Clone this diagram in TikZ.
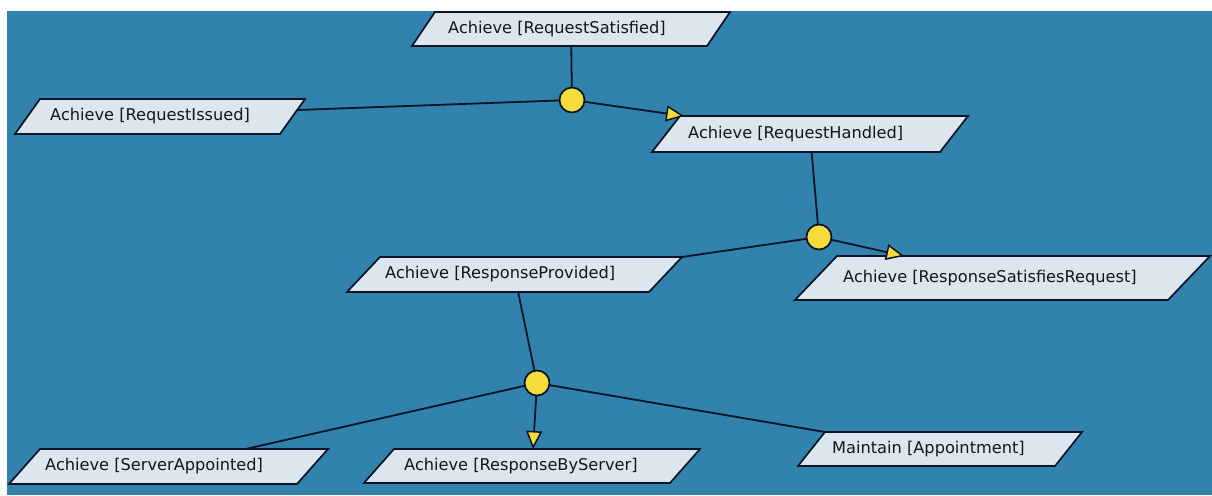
\documentclass[tikz,border=0pt]{standalone}
\usepackage{fontspec}
\setmainfont{DejaVu Sans}
\usetikzlibrary{arrows.meta,calc,backgrounds}
\definecolor{bgblue}{RGB}{49,130,172}
\definecolor{goalfill}{RGB}{220,230,238}
\definecolor{ink}{RGB}{10,20,38}
\definecolor{andyel}{RGB}{246,220,58}
\definecolor{txt}{RGB}{20,22,30}
\tikzset{
  goal/.style n args={2}{rectangle, draw=none, inner sep=0pt, outer sep=0pt,
    minimum width=#1, minimum height=#2},
  gshape/.style={draw=ink, fill=goalfill, line width=1.7pt, line join=miter},
  lbl/.style={anchor=west, inner sep=0pt, text=txt, font=\fontsize{16.2}{17}\selectfont},
  andnode/.style={circle, draw=ink, fill=andyel, line width=1.7pt, minimum size=25pt, inner sep=0pt, outer sep=0pt},
  link/.style={draw=ink, line width=1.8pt},
  refine/.style={link, -{Triangle[length=18pt,width=16pt,fill=andyel,line width=1.5pt]}}
}
\newcommand\pgramshape[2]{%
  \path[gshape] ([xshift=#2*0.5pt]#1.north west) -- ([xshift=#2*0.5pt]#1.north east)
    -- ([xshift=-#2*0.5pt]#1.south east) -- ([xshift=-#2*0.5pt]#1.south west) -- cycle;}
\begin{document}
\begin{tikzpicture}[x=1pt,y=-1pt]
\useasboundingbox (0,0) rectangle (1212,495);

% goals (text boxes of the parallelograms)
\node[goal={295pt}{34pt}] (rs) at (571,29) {};
\node[goal={265pt}{35pt}] (ri) at (160,116.5) {};
\node[goal={288pt}{36pt}] (rh) at (810,134) {};
\node[goal={302pt}{35pt}] (rp) at (514.5,274.5) {};
\node[goal={373pt}{44pt}] (rsr) at (1002.5,278) {};
\node[goal={288pt}{35pt}] (sa) at (168.5,466.5) {};
\node[goal={306pt}{34pt}] (rbs) at (532,466) {};
\node[goal={257pt}{34pt}] (ma) at (940,449) {};

\begin{scope}[on background layer]
\fill[white] (0,0) rectangle (1212,495);
\fill[bgblue] (7,11) rectangle (1212,495);
\pgramshape{rs}{23}
\pgramshape{ri}{25}
\pgramshape{rh}{28}
\pgramshape{rp}{33}
\pgramshape{rsr}{42}
\pgramshape{sa}{31}
\pgramshape{rbs}{30}
\pgramshape{ma}{27}
\end{scope}

% labels
\node[lbl] (rs-t) at ([xshift=24.5pt]rs.west) {Achieve [RequestSatisfied]};
\node[lbl] (ri-t) at ([xshift=22.5pt]ri.west) {Achieve [RequestIssued]};
\node[lbl] (rh-t) at ([xshift=22pt]rh.west) {Achieve [RequestHandled]};
\node[lbl] (rp-t) at ([xshift=21.5pt]rp.west) {Achieve [ResponseProvided]};
\node[lbl] (rsr-t) at ([xshift=27pt]rsr.west) {Achieve [ResponseSatisfiesRequest]};
\node[lbl] (sa-t) at ([xshift=20.5pt]sa.west) {Achieve [ServerAppointed]};
\node[lbl] (rbs-t) at ([xshift=25pt]rbs.west) {Achieve [ResponseByServer]};
\node[lbl] (ma-t) at ([xshift=20.5pt]ma.west) {Maintain [Appointment]};

% and-refinement circles
\node[andnode] (c1) at (572,100) {};
\node[andnode] (c2) at (819,237) {};
\node[andnode] (c3) at (537,383) {};

% connectors
\coordinate (ri-end) at ([xshift=5pt,yshift=6.5pt]ri.east);
\draw[link] (rs) -- (c1);
\draw[link] (ri-end) -- (c1);
\draw[refine] (c1) -- (rh);
\draw[link] (rh) -- (c2);
\draw[link] ([xshift=16.5pt]rp.north east) -- (c2);
\draw[refine] (c2) -- (rsr);
\draw[link] (rp) -- (c3);
\draw[link] (sa) -- (c3);
\draw[refine] (c3) -- (rbs);
\draw[link] ([xshift=13.5pt]ma.north west) -- (c3);
\end{tikzpicture}
\end{document}
